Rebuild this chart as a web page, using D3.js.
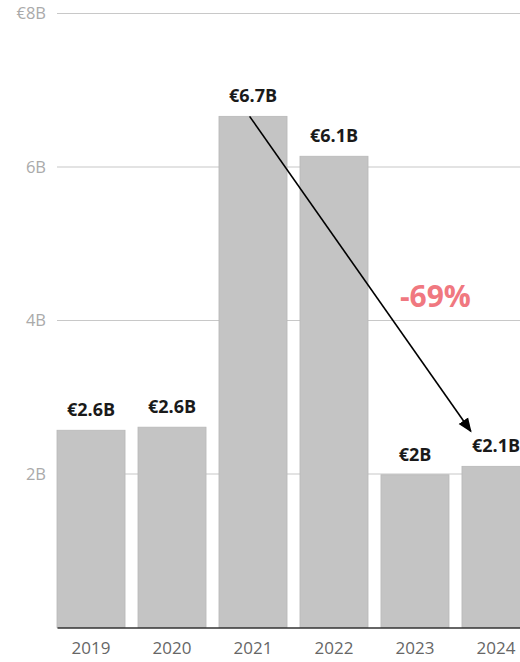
<!DOCTYPE html>
<html><head><meta charset="utf-8">
<script src="https://cdn.jsdelivr.net/npm/d3@7"></script>
<style>body{margin:0;background:#fff;} svg{display:block;font-family:"Open Sans",sans-serif;}</style>
</head><body>
<svg id="c" width="520" height="662"></svg>
<script>
const years = ["2019","2020","2021","2022","2023","2024"];
const values = [2.57, 2.61, 6.66, 6.14, 1.99, 2.10];
const valueLabels = ["€2.6B","€2.6B","€6.7B","€6.1B","€2B","€2.1B"];
const yTicks = [2, 4, 6, 8];
const yTickLabels = ["2B","4B","6B","€8B"];
const changeLabel = "-69%";

const svg = d3.select("#c");
const x = d3.scaleBand().domain(years).range([57, 530]).paddingInner(0.16).paddingOuter(0);
const y = d3.scaleLinear().domain([0, 8]).range([627.5, 13.5]);

svg.append("defs").append("marker").attr("id","ah")
  .attr("viewBox","0 0 10 10").attr("refX",9).attr("refY",5)
  .attr("markerWidth",9).attr("markerHeight",9).attr("orient","auto")
  .append("path").attr("d","M0,1 L10,5 L0,9 Z").attr("fill","#000");

// gridlines
svg.append("g").selectAll("line").data(yTicks).join("line")
  .attr("x1",57).attr("x2",520).attr("y1",d=>y(d)).attr("y2",d=>y(d))
  .attr("stroke","#c8c8c8").attr("stroke-width",1.2);
svg.append("g").selectAll("text").data(yTicks).join("text")
  .attr("x",46).attr("y",d=>y(d)).attr("dy","0.35em").attr("text-anchor","end")
  .attr("fill","#aaa").attr("font-size",16.5).text((d,i)=>yTickLabels[i]);

// bars
svg.append("g").selectAll("rect").data(values).join("rect")
  .attr("x",(d,i)=>x(years[i])).attr("width",x.bandwidth())
  .attr("y",d=>y(d)).attr("height",d=>y(0)-y(d))
  .attr("fill","#c4c4c4").attr("stroke","#b8b8b8").attr("stroke-width",0.8);

// axis
const xAxis = svg.append("g").attr("transform",`translate(0,${y(0)})`)
  .call(d3.axisBottom(x).tickSize(0).tickPadding(14));
xAxis.select(".domain").attr("stroke","#333").attr("stroke-width",1.5);
xAxis.selectAll("text").attr("font-size",17).attr("fill","#666").attr("font-family","Open Sans, sans-serif");

// value labels
svg.append("g").selectAll("text").data(values).join("text")
  .attr("x",(d,i)=>x(years[i])+x.bandwidth()/2).attr("y",d=>y(d)-14)
  .attr("text-anchor","middle").attr("font-weight",700).attr("font-size",18)
  .attr("fill","#1a1a1a").text((d,i)=>valueLabels[i]);

// arrow
const x0 = x("2021") + x.bandwidth()*0.45, y0 = y(values[2]);
const x1 = x("2024") + x.bandwidth()*0.13, y1 = y(values[5]) - 35;
svg.append("line").attr("x1",x0).attr("y1",y0).attr("x2",x1).attr("y2",y1)
  .attr("stroke","#000").attr("stroke-width",1.6).attr("marker-end","url(#ah)");

svg.append("text").attr("x",x("2023")+x.bandwidth()*0.8).attr("y",y(4)-14)
  .attr("text-anchor","middle").attr("font-weight",700).attr("font-size",30)
  .attr("fill","#f07880").text(changeLabel);
</script>
</body></html>
